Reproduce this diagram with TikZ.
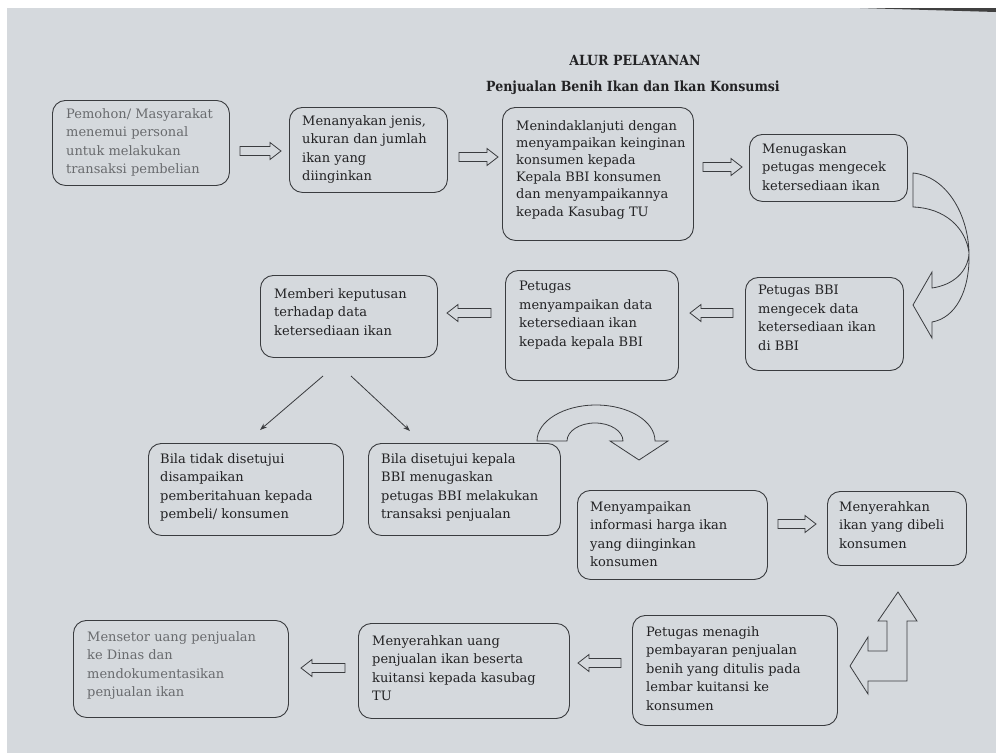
\documentclass[tikz,border=0pt]{standalone}
\usepackage{fontspec}
\setmainfont{DejaVu Serif}
\newfontfamily\titlefont{DejaVu Serif Condensed}
\usetikzlibrary{arrows.meta}
\definecolor{paper}{RGB}{213,217,221}
\definecolor{ink}{RGB}{58,60,63}
\definecolor{txtdark}{RGB}{34,34,36}
\definecolor{txtgray}{RGB}{105,107,110}
\tikzset{
  box/.style={draw=ink, line width=0.9pt, rounded corners=13pt, inner sep=0pt},
  txt/.style={align=left, inner sep=0pt, text=txtdark, font=\fontsize{13}{18.6}\selectfont},
  txtg/.style={txt, text=txtgray},
  shp/.style={draw=ink, line width=0.8pt, line join=miter},
  diag/.style={draw=ink, line width=0.8pt, -{Stealth[length=7pt,width=5pt]}},
}
% block arrow pointing right: tail x, tip x, y
\newcommand\blkright[3]{\draw[shp] ({#1},{#3-4.5}) -- ({#2-11},{#3-4.5}) -- ({#2-11},{#3-8.5}) -- ({#2},{#3})
  -- ({#2-11},{#3+8.5}) -- ({#2-11},{#3+4.5}) -- ({#1},{#3+4.5}) -- cycle;}
% block arrow pointing left: tail x, tip x, y
\newcommand\blkleft[3]{\draw[shp] ({#1},{#3-4.5}) -- ({#2+11},{#3-4.5}) -- ({#2+11},{#3-8.5}) -- ({#2},{#3})
  -- ({#2+11},{#3+8.5}) -- ({#2+11},{#3+4.5}) -- ({#1},{#3+4.5}) -- cycle;}
\begin{document}
\begin{tikzpicture}[x=1pt,y=-1pt]
\useasboundingbox (0,0) rectangle (996,753);
\fill[white] (0,0) rectangle (996,753);
\fill[paper] (7,8) rectangle (996,753);
\fill[black!75] (860,8) -- (996,8) -- (996,12) -- cycle;

% titles
\node[inner sep=0pt, font=\titlefont\bfseries\fontsize{14}{16}\selectfont, text=txtdark] (title) at (635,60) {ALUR PELAYANAN};
\node[inner sep=0pt, font=\titlefont\bfseries\fontsize{14}{16}\selectfont, text=txtdark] (subtitle) at (633,88) {Penjualan Benih Ikan dan Ikan Konsumsi};

% boxes
\node[box, minimum width=177, minimum height=85, anchor=north west] (b1) at (52,100) {};
\node[txtg, anchor=north west] (t1) at (66,108) {Pemohon/ Masyarakat\\menemui personal\\untuk melakukan\\transaksi pembelian};

\node[box, minimum width=158, minimum height=85, anchor=north west] (b2) at (289,107) {};
\node[txt, anchor=north west] (t2) at (302,115) {Menanyakan jenis,\\ukuran dan jumlah\\ikan yang\\diinginkan};

\node[box, minimum width=191, minimum height=133, anchor=north west] (b3) at (502,107) {};
\node[txt, anchor=north west, font=\fontsize{13}{17.2}\selectfont] (t3) at (516,120) {Menindaklanjuti dengan\\menyampaikan keinginan\\konsumen kepada\\Kepala BBI konsumen\\dan menyampaikannya\\kepada Kasubag TU};

\node[box, minimum width=158, minimum height=67, anchor=north west] (b4) at (749,134) {};
\node[txt, anchor=north west] (t4) at (762,143) {Menugaskan\\petugas mengecek\\ketersediaan ikan};

\node[box, minimum width=158, minimum height=93, anchor=north west] (b5) at (745,277) {};
\node[txt, anchor=north west] (t5) at (758,285) {Petugas BBI\\mengecek data\\ketersediaan ikan\\di BBI};

\node[box, minimum width=173, minimum height=110, anchor=north west] (b6) at (505,270) {};
\node[txt, anchor=north west] (t6) at (519,281) {Petugas\\menyampaikan data\\ketersediaan ikan\\kepada kepala BBI};

\node[box, minimum width=177, minimum height=82, anchor=north west] (b7) at (260,275) {};
\node[txt, anchor=north west] (t7) at (274,288) {Memberi keputusan\\terhadap data\\ketersediaan ikan};

\node[box, minimum width=195, minimum height=92, anchor=north west] (b8) at (148,443) {};
\node[txt, anchor=north west] (t8) at (160,453) {Bila tidak disetujui\\disampaikan\\pemberitahuan kepada\\pembeli/ konsumen};

\node[box, minimum width=192, minimum height=92, anchor=north west] (b9) at (368,443) {};
\node[txt, anchor=north west] (t9) at (381,453) {Bila disetujui kepala\\BBI menugaskan\\petugas BBI melakukan\\transaksi penjualan};

\node[box, minimum width=190, minimum height=89, anchor=north west] (b10) at (577,490) {};
\node[txt, anchor=north west] (t10) at (590,501) {Menyampaikan\\informasi harga ikan\\yang diinginkan\\konsumen};

\node[box, minimum width=139, minimum height=74, anchor=north west] (b11) at (827,491) {};
\node[txt, anchor=north west] (t11) at (839,501) {Menyerahkan\\ikan yang dibeli\\konsumen};

\node[box, minimum width=205, minimum height=110, anchor=north west] (b12) at (632,615) {};
\node[txt, anchor=north west] (t12) at (646,626) {Petugas menagih\\pembayaran penjualan\\benih yang ditulis pada\\lembar kuitansi ke\\konsumen};

\node[box, minimum width=211, minimum height=95, anchor=north west] (b13) at (358,623) {};
\node[txt, anchor=north west] (t13) at (372,635) {Menyerahkan uang\\penjualan ikan beserta\\kuitansi kepada kasubag\\TU};

\node[box, minimum width=215, minimum height=97, anchor=north west] (b14) at (73,620) {};
\node[txtg, anchor=north west] (t14) at (87,631) {Mensetor uang penjualan\\ke Dinas dan\\mendokumentasikan\\penjualan ikan};

% block arrows
\blkright{240}{281}{151}
\blkright{459}{498}{157}
\blkright{703}{742}{167}
\blkleft{733}{690}{313}
\blkleft{491}{447}{313}
\blkright{778}{816}{524}
\blkleft{621}{578}{663}
\blkleft{345}{301}{668}

% curved arrow (box 4 -> box 5)
\draw[shp] (913,173) .. controls (945,176) and (968,212) .. (969,253)
  .. controls (970,292) and (955,318) .. (932,322) -- (932,338) -- (913,305) -- (932,272) -- (932,288)
  .. controls (953,285) and (968,272) .. (969,253)
  .. controls (966,228) and (945,208) .. (913,207) -- cycle;

% U-turn arrow (box 9 -> box 10)
\draw[shp] (537,441) arc[start angle=180, end angle=360, x radius=59, y radius=36]
  -- (668,441) -- (639,460) -- (610,441) -- (623,441)
  arc[start angle=0, end angle=-180, x radius=28, y radius=18] -- cycle;

% left-up arrow (box 12 -> box 11)
\draw[shp] (850,666) -- (868,637) -- (868,651) -- (887,651) -- (887,621) -- (878,621)
  -- (898,592) -- (917,621) -- (907,621) -- (907,681) -- (868,681) -- (868,694) -- cycle;

% decision arrows
\coordinate (d1s) at (323,376);
\coordinate (d1e) at (260,430);
\coordinate (d2s) at (351,376);
\coordinate (d2e) at (410,431);
\draw[diag] (d1s) -- (d1e);
\draw[diag] (d2s) -- (d2e);
\end{tikzpicture}
\end{document}
